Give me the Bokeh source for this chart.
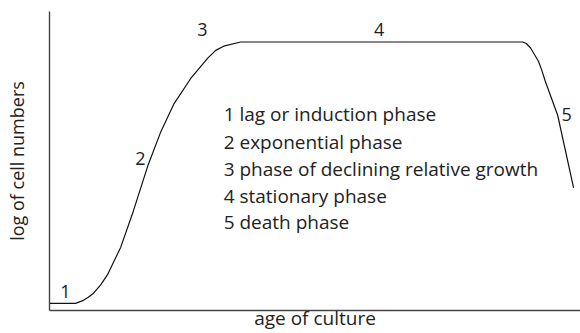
from bokeh.plotting import figure
from bokeh.embed import file_html
from bokeh.resources import INLINE
from bokeh.core.properties import value
from bokeh.models import ColumnDataSource

# growth curve (age of culture, log of cell numbers)
age = [0.0, 0.49, 0.64, 0.73, 0.83, 0.96, 1.09, 1.34, 1.58, 1.85, 2.09, 2.34,
       2.66, 2.98, 3.13, 3.28, 3.60, 8.91, 8.98, 9.06, 9.13, 9.21, 9.27,
       9.34, 9.57, 9.87]
log_cells = [0.24, 0.24, 0.34, 0.44, 0.58, 0.85, 1.19, 2.11, 3.33, 4.83, 5.95,
             6.90, 7.76, 8.44, 8.70, 8.84, 8.98, 8.98, 8.93, 8.78, 8.57, 8.33,
             8.04, 7.65, 6.53, 4.10]

# phase number labels on the curve
phase_nums = ["1", "2", "3", "4", "5"]
phase_x = [0.30, 1.71, 2.88, 6.21, 9.74]
phase_y = [0.65, 5.10, 9.39, 9.39, 6.56]

# key text
key_lines = ["1 lag or induction phase",
             "2 exponential phase",
             "3 phase of declining relative growth",
             "4 stationary phase",
             "5 death phase"]
key_x = [3.28] * 5
key_y = [6.56, 5.65, 4.73, 3.84, 2.96]

x_title = "age of culture"
y_title = "log of cell numbers"

FONT = "Open Sans"
TXT = "#222222"

p = figure(width=580, height=333, x_range=(0, 10), y_range=(0, 10),
           output_backend="svg", toolbar_location=None,
           min_border_left=49, min_border_right=0, min_border_top=11,
           min_border_bottom=0)
p.outline_line_color = None
p.grid.visible = False
p.background_fill_color = "white"

for ax in (p.xaxis[0], p.yaxis[0]):
    ax.ticker = []
    ax.major_tick_out = 0
    ax.major_tick_in = 0
    ax.minor_tick_out = 0
    ax.minor_tick_in = 0
    ax.major_label_standoff = 0
    ax.major_label_text_font_size = "0px"
    ax.axis_line_color = "#444444"
    ax.axis_line_width = 1.4
    ax.axis_label_text_font = FONT
    ax.axis_label_text_font_style = "normal"
    ax.axis_label_text_color = TXT

p.xaxis.axis_label = x_title
p.xaxis.axis_label_text_font_size = "19px"
p.xaxis.axis_label_standoff = -6
p.yaxis.axis_label = y_title
p.yaxis.axis_label_text_font_size = "18px"
p.yaxis.axis_label_standoff = 21

src = ColumnDataSource(dict(x=age, y=log_cells))
p.line("x", "y", source=src, line_color="#111111", line_width=1.2)

p.text(x=phase_x, y=phase_y, text=phase_nums, text_font=value(FONT),
       text_font_size="18px", text_color=TXT, text_align="center",
       text_baseline="middle")
p.text(x=key_x, y=key_y, text=key_lines, text_font=value(FONT),
       text_font_size="19px", text_color=TXT, text_align="left",
       text_baseline="middle")

open("out.html", "w").write(file_html(p, INLINE))
